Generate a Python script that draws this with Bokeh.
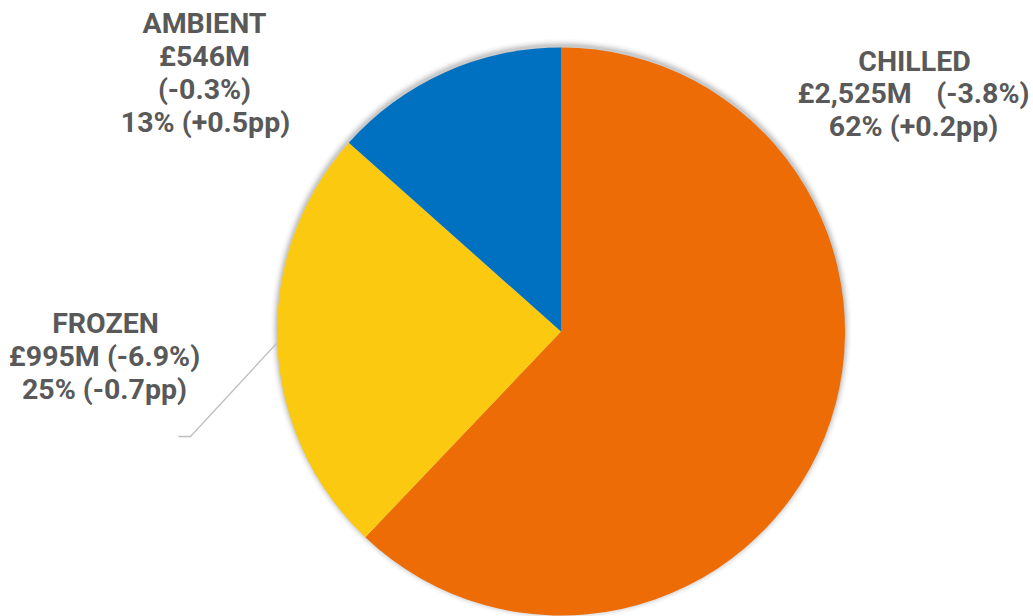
import numpy as np
from bokeh.plotting import figure
from bokeh.models import Range1d, ColumnDataSource
from bokeh.core.properties import value
from bokeh.embed import file_html
from bokeh.resources import INLINE

categories = ["CHILLED", "FROZEN", "AMBIENT"]
values_m = [2525, 995, 546]
value_change = ["-3.8%", "-6.9%", "-0.3%"]
share_pct = ["62%", "25%", "13%"]
share_change = ["+0.2pp", "-0.7pp", "+0.5pp"]
colors = ["#ED6C05", "#FCC911", "#0070C0"]

W, H = 1033, 616
p = figure(width=W, height=H, output_backend="svg", toolbar_location=None,
           x_range=Range1d(0, W), y_range=Range1d(0, H), min_border=0)
p.axis.visible = False
p.grid.visible = False
p.outline_line_color = None
p.background_fill_color = "white"
p.border_fill_color = "white"

cx, cy, R = 560.5, H - 331, 284

# soft shadow
for k, a in zip(range(1, 8), [0.05, 0.045, 0.04, 0.03, 0.02, 0.015, 0.01]):
    p.circle(x=[cx], y=[cy + 2], radius=R + k, fill_color="#000000", fill_alpha=a, line_color=None)

vals = np.array(values_m, dtype=float)
frac = vals / vals.sum()
ends = np.cumsum(frac) * 2 * np.pi
starts = np.concatenate([[0], ends[:-1]])
src = ColumnDataSource(dict(
    start=np.pi / 2 - starts, end=np.pi / 2 - ends, color=colors,
))
p.wedge(x=cx, y=cy, radius=R, start_angle="start", end_angle="end", direction="clock",
        fill_color="color", line_color=None, source=src)

# leader line for FROZEN
p.line(x=[178, 190, 276], y=[H - 436, H - 436, H - 343], line_color="#BFBFBF", line_width=1.3)

font = value("Roboto")
col = "#595959"
fs = "28.5px"
dy = -10

def txt(x, y, s, align="center"):
    p.text(x=[x], y=[H - (y + dy)], text=[s], text_font=font, text_font_size=fs, text_font_style="bold",
           text_color=col, text_align=align, text_baseline="alphabetic")

# CHILLED (index 0)
txt(914, 71, categories[0])
txt(797, 103, f"£{values_m[0]:,}M", "left")
txt(1029, 103, f"({value_change[0]})", "right")
txt(913, 136, f"{share_pct[0]} ({share_change[0]})")

# FROZEN (index 1)
txt(105, 333, categories[1])
txt(104, 366, f"£{values_m[1]:,}M ({value_change[1]})")
txt(104, 399, f"{share_pct[1]} ({share_change[1]})")

# AMBIENT (index 2)
txt(204, 33, categories[2])
txt(204, 66, f"£{values_m[2]:,}M")
txt(204, 99, f"({value_change[2]})")
txt(205, 132, f"{share_pct[2]} ({share_change[2]})")

open("out.html", "w").write(file_html(p, INLINE))
